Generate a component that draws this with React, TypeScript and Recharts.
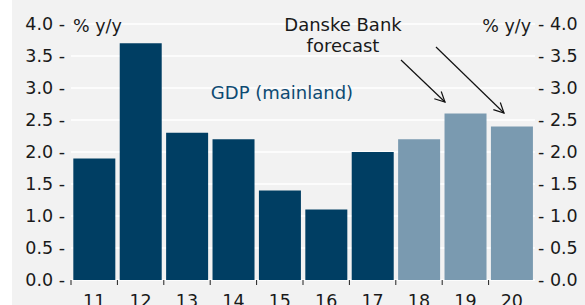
import React from 'react';
import { ComposedChart, Bar, Line, XAxis, YAxis, CartesianGrid, Cell } from 'recharts';

const years = ['11', '12', '13', '14', '15', '16', '17', '18', '19', '20'];
const gdpMainland = [1.9, 3.7, 2.3, 2.2, 1.4, 1.1, 2.0, 2.2, 2.6, 2.4];
const forecastYears = ['18', '19', '20'];
const yTicks = [0, 0.5, 1, 1.5, 2, 2.5, 3, 3.5, 4];

const data = years.map((year, i) => ({ year, gdp: gdpMainland[i] }));

const FONT = '"DejaVu Sans", sans-serif';
const DARK = '#003e63';
const LIGHT = '#7a9ab0';
const TEXT = '#1a1a1a';

const W = 585;
const H = 305;
const BAND = 46.4;

function XTick(props: any) {
  const { x, y, payload } = props;
  return (
    <g>
      <line x1={x - BAND / 2} x2={x - BAND / 2} y1={y} y2={y + 5} stroke="#222" strokeWidth={1} />
      <text x={x} y={y + 27} textAnchor="middle" fontFamily={FONT} fontSize={17.5} fill={TEXT}>
        {payload.value}
      </text>
    </g>
  );
}

export default function App() {
  return (
    <div style={{ position: 'fixed', left: 0, top: 0, width: W, height: H, background: '#fff' }}>
      <div style={{ position: 'absolute', left: 12, top: 0, width: W - 12, height: H, background: '#f2f2f2' }} />
      <div style={{ position: 'absolute', left: 0, top: 0 }}>
        <ComposedChart
          width={W}
          height={H}
          data={data}
          margin={{ top: 24, right: 0, left: 0, bottom: 0 }}
          barCategoryGap="5%"
        >
          <CartesianGrid horizontal vertical={false} stroke="#ffffff" strokeWidth={1.5} yAxisId="left" />
          <XAxis
            dataKey="year"
            height={25}
            axisLine={false}
            tickLine={false}
            tickSize={0}
            tickMargin={0}
            interval={0}
            tick={<XTick />}
          />
          <YAxis
            yAxisId="left"
            orientation="left"
            width={71}
            domain={[0, 4]}
            ticks={yTicks}
            axisLine={false}
            tickLine={false}
            tickSize={0}
            tickMargin={6}
            tickFormatter={(v: number) => `${v.toFixed(1)} -`}
            tick={{ fontFamily: FONT, fontSize: 17.5, fill: TEXT }}
          />
          <YAxis
            yAxisId="right"
            orientation="right"
            width={50}
            domain={[0, 4]}
            ticks={yTicks}
            axisLine={false}
            tickLine={false}
            tickSize={0}
            tickMargin={3}
            tickFormatter={(v: number) => `- ${v.toFixed(1)}`}
            tick={{ fontFamily: FONT, fontSize: 17.5, fill: TEXT }}
          />
          <Bar dataKey="gdp" yAxisId="left" isAnimationActive={false}>
            {data.map((d) => (
              <Cell key={d.year} fill={forecastYears.includes(d.year) ? LIGHT : DARK} />
            ))}
          </Bar>
          <Line
            dataKey="gdp"
            yAxisId="right"
            stroke="none"
            dot={false}
            activeDot={false}
            legendType="none"
            isAnimationActive={false}
          />
        </ComposedChart>
      </div>
      <svg width={W} height={H} style={{ position: 'absolute', left: 0, top: 0, pointerEvents: 'none' }}>
        <defs>
          <marker id="arrow" markerWidth="12" markerHeight="12" refX="11" refY="6" orient="auto" markerUnits="userSpaceOnUse">
            <path d="M1,1 L11,6 L1,11" fill="none" stroke="#111" strokeWidth={1.2} />
          </marker>
        </defs>
        <text x={73} y={32} fontFamily={FONT} fontSize={17.5} fill={TEXT}>% y/y</text>
        <text x={531} y={32} textAnchor="end" fontFamily={FONT} fontSize={17.5} fill={TEXT}>% y/y</text>
        <text x={282} y={99} fontFamily={FONT} fontSize={18} fill="#0d4a72" textAnchor="middle">GDP (mainland)</text>
        <text x={343} y={31} textAnchor="middle" fontFamily={FONT} fontSize={18} fill={TEXT}>Danske Bank</text>
        <text x={343} y={52} textAnchor="middle" fontFamily={FONT} fontSize={18} fill={TEXT}>forecast</text>
        <line x1={401} y1={60} x2={445} y2={102} stroke="#111" strokeWidth={1.2} markerEnd="url(#arrow)" />
        <line x1={436} y1={47} x2={504} y2={113} stroke="#111" strokeWidth={1.2} markerEnd="url(#arrow)" />
      </svg>
    </div>
  );
}
